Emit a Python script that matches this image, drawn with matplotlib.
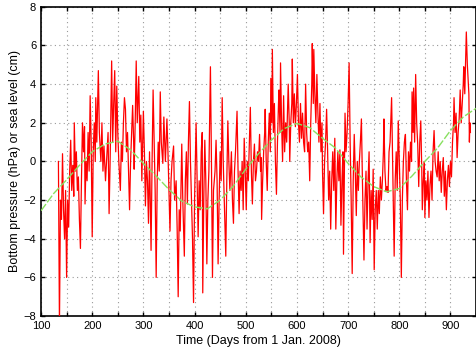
#!/usr/bin/env python3
"""Bottom pressure / sea level time series with the seasonal fit."""
import matplotlib
matplotlib.use("Agg")
import matplotlib.pyplot as plt
from matplotlib.ticker import MultipleLocator

plt.rcParams["font.family"] = ["Liberation Sans", "DejaVu Sans"]

# red series: (day, value)
OBS_DAY = [
    134, 136, 138, 140, 142, 144, 146, 148, 150, 152, 154, 156, 158, 160, 162, 164, 165, 167, 169, 171,
    173, 175, 177, 179, 181, 183, 185, 186, 188, 190, 192, 194, 196, 198, 200, 202, 204, 206, 207, 209,
    212, 214, 217, 219, 221, 223, 226, 229, 231, 233, 235, 238, 240, 242, 244, 246, 248, 250, 252, 255,
    257, 259, 261, 263, 265, 267, 269, 271, 273, 275, 277, 279, 281, 282, 284, 286, 288, 291, 293, 295,
    297, 299, 300, 302, 304, 306, 308, 310, 312, 315, 317, 319, 321, 323, 325, 327, 329, 331, 333, 335,
    338, 340, 343, 346, 348, 350, 352, 354, 356, 359, 361, 364, 366, 368, 370, 372, 375, 377, 380, 382,
    384, 386, 388, 390, 392, 394, 396, 398, 400, 403, 405, 407, 409, 411, 413, 415, 416, 418, 420, 422,
    424, 426, 428, 431, 433, 435, 437, 440, 442, 444, 446, 448, 450, 452, 454, 456, 458, 461, 463, 465,
    467, 469, 472, 474, 476, 478, 480, 483, 485, 487, 489, 491, 493, 495, 497, 499, 501, 503, 505, 507,
    509, 511, 513, 515, 517, 519, 521, 523, 525, 527, 529, 530, 531, 533, 535, 537, 538, 540, 542, 544,
    546, 548, 549, 551, 552, 554, 556, 558, 560, 562, 564, 565, 567, 568, 570, 572, 574, 576, 578, 580,
    583, 585, 586, 588, 590, 591, 593, 595, 597, 599, 601, 603, 605, 607, 609, 611, 613, 615, 617, 619,
    621, 623, 625, 627, 629, 630, 632, 633, 635, 637, 639, 641, 643, 645, 647, 649, 650, 652, 654, 656,
    658, 660, 662, 664, 666, 668, 670, 672, 674, 676, 678, 680, 682, 684, 686, 688, 690, 691, 693, 694,
    696, 698, 700, 702, 704, 706, 708, 710, 712, 714, 716, 718, 720, 722, 724, 726, 728, 731, 733, 735,
    737, 739, 741, 743, 745, 747, 749, 751, 753, 755, 757, 759, 761, 763, 765, 767, 769, 770, 772, 774,
    776, 778, 780, 782, 785, 787, 790, 792, 794, 796, 798, 800, 802, 804, 806, 808, 810, 812, 814, 816,
    818, 820, 822, 824, 825, 827, 828, 830, 832, 834, 836, 838, 840, 842, 844, 845, 847, 849, 850, 852,
    854, 856, 858, 860, 862, 864, 866, 868, 870, 872, 874, 876, 878, 880, 882, 884, 886, 888, 890, 892,
    894, 896, 898, 900, 902, 904, 906, 907, 909, 911, 913, 915, 917, 919, 921, 923, 925, 926, 928, 930,
    931, 933, 935, 936, 937, 938, 939,
]
OBS_VAL = [
    0.0, -8.5, -2.0, -3.0, 0.4, -2.5, -4.0, -1.5, -6.0, -2.0, -3.4, -0.5, 1.1, -1.5, -0.2, -1.8, 2.0, -0.5, 0.5, -1.5,
    -0.8, -3.0, -4.5, -1.0, 2.0, 0.5, 1.8, -2.2, 0.0, -1.0, 1.5, -0.5, 3.4, 1.0, -3.9, 0.5, 2.0, 0.0, 3.3, 1.0,
    4.7, 1.5, 0.0, 2.0, -0.5, 0.8, -1.0, 0.5, 1.5, -2.7, 0.0, 5.2, 1.0, 3.0, 4.7, 0.5, 3.9, 1.5, 0.0, -1.5,
    1.0, 0.0, 2.0, 3.3, 2.7, 0.5, 1.5, -0.5, -2.5, 0.0, 1.5, 2.9, 1.0, -0.4, 2.0, 5.2, 2.0, 4.4, 1.0, 2.4,
    -1.0, 1.5, 2.6, 0.5, -2.3, 0.0, -1.0, -3.2, 0.5, -4.6, 0.0, 3.7, 1.0, -1.5, -6.0, -1.0, 1.0, -0.5, 3.6, 1.0,
    -0.1, 2.3, 0.0, 2.2, 0.5, -1.5, -3.6, -1.0, 0.0, 0.8, -2.0, -1.0, -3.5, -7.0, -2.5, -3.6, 0.9, -2.0, -4.9, -1.0,
    0.5, -2.2, 1.0, 3.1, 0.0, -2.0, -4.0, -7.3, -2.0, 2.0, -1.0, -3.9, -1.0, -2.5, 0.5, 1.5, -6.8, -2.0, 1.1, -1.0,
    -5.3, -2.0, -0.5, 4.9, 0.0, -6.0, -1.5, -0.5, 1.1, -1.0, -5.3, -2.0, 0.5, -1.0, 3.3, 0.0, -2.0, -4.9, -1.0, 2.1,
    0.0, -1.5, 0.5, -2.0, -3.2, -0.5, 0.5, 2.6, -0.5, -2.7, -0.5, -1.5, 0.0, -2.5, 1.2, -0.5, -2.5, 0.0, -1.0, 1.0,
    2.8, -0.5, -2.2, 0.0, 0.9, -1.0, -0.5, 0.5, 0.0, 1.4, -0.5, 0.2, -3.0, -1.0, 0.5, 1.5, 2.7, 0.0, -1.5, 1.0,
    2.5, 0.5, 4.3, 2.0, 5.8, 1.5, 3.0, 0.0, -1.7, 1.0, 3.0, 3.7, 1.5, 5.1, 2.0, 0.0, 3.4, 0.5, 2.0, 1.0,
    4.0, 2.0, 0.0, 2.0, 3.0, 5.3, 2.0, 3.5, 1.8, 3.0, 4.5, 2.0, 1.0, 3.0, 1.2, 2.5, 1.0, 0.5, 4.0, 1.5,
    0.5, 1.0, -1.0, 2.0, 4.0, 6.1, 3.0, 5.8, 3.5, 2.0, 4.5, 2.5, 1.0, 3.0, 0.5, 2.0, -0.5, -2.7, 0.0, 1.0,
    2.7, 0.5, -2.0, -0.5, -3.5, -1.0, 0.5, -1.5, 1.2, -3.5, -1.0, 0.5, -1.0, 0.6, -3.3, -1.0, 0.5, -4.8, 0.0, 2.5,
    0.5, 1.5, 3.0, 5.1, 1.0, -2.0, -5.8, -1.0, 1.4, -0.5, -2.8, 0.0, -1.5, 0.0, 1.0, 2.2, -1.0, -5.1, -2.0, -0.5,
    -3.5, -1.0, 0.5, -4.2, -1.5, -3.0, -0.4, -5.6, -2.5, -1.5, -3.5, -1.5, -2.7, -0.8, -2.0, -1.0, 0.5, 2.2, -0.5, -1.5,
    -1.3, -1.6, 0.5, 1.0, 3.3, 0.0, -4.9, -1.0, 0.5, -1.5, 2.1, 0.0, -2.0, -6.0, -2.0, 0.0, 1.0, 1.4, -1.0, -2.5,
    0.5, -0.5, 1.0, 0.0, 3.6, 1.5, 3.8, 1.0, 4.5, 2.0, 0.9, -1.3, 1.0, 2.1, -0.5, -2.5, -1.0, 0.0, -2.9, -1.0,
    -2.0, -0.5, -2.9, -1.2, -0.5, -2.0, 0.5, 1.6, 0.0, -0.5, -0.8, 0.5, -1.0, 0.0, -1.6, -0.5, 0.2, -1.8, -0.5, -2.5,
    -1.0, -0.2, -1.3, 0.0, -0.8, 1.0, 2.0, 3.3, 1.5, 2.5, 0.2, 1.5, 2.2, 3.7, 2.0, 3.0, 4.0, 4.9, 3.5, 5.5,
    6.7, 5.0, 4.0, 3.5, 1.0, 2.0, 1.5,
]

# green seasonal fit, read every 25 days
FIT_DAY = [100, 125, 150, 175, 200, 225, 250, 275, 300, 325, 350, 375, 400, 425, 450, 475, 500, 525,
           550, 575, 600, 625, 650, 675, 700, 725, 750, 775, 800, 825, 850, 875, 900, 925, 950]
FIT_VAL = [-2.55, -1.65, -0.95, -0.2, 0.5, 0.9, 1.05, 0.6, -0.1, -0.75, -1.45, -2.05, -2.35, -2.45,
           -2.0, -1.3, -0.4, 0.4, 1.1, 1.7, 1.97, 1.75, 1.2, 0.7, -0.1, -0.8, -1.3, -1.57, -1.4, -0.75,
           0.0, 0.7, 1.6, 2.3, 2.75]

fig = plt.figure(figsize=(4.77, 3.6), dpi=100)
ax = fig.add_axes([0.086, 0.122, 0.912, 0.859])

ax.plot(OBS_DAY, OBS_VAL, color="#ff0000", lw=0.9, zorder=3)
ax.plot(FIT_DAY, FIT_VAL, color="#88e060", lw=1.0, ls=(0, (6, 1.5)), zorder=4)

ax.set_xlim(100, 950)
ax.set_ylim(-8, 8)
ax.xaxis.set_major_locator(MultipleLocator(100))
ax.xaxis.set_minor_locator(MultipleLocator(50))
ax.yaxis.set_major_locator(MultipleLocator(2))
ax.grid(which="both", color="#999999", ls=(0, (1, 3)), lw=0.8)
ax.tick_params(which="both", direction="in", top=True, right=True, labelsize=8, length=3, width=1)
ax.tick_params(which="minor", length=3)
for s in ax.spines.values():
    s.set_linewidth(1.2)

ax.set_xlabel("Time (Days from 1 Jan. 2008)", fontsize=9, labelpad=3)
ax.set_ylabel("Bottom pressure (hPa) or sea level (cm)", fontsize=9, labelpad=2)

fig.savefig("out.png", dpi=100)
